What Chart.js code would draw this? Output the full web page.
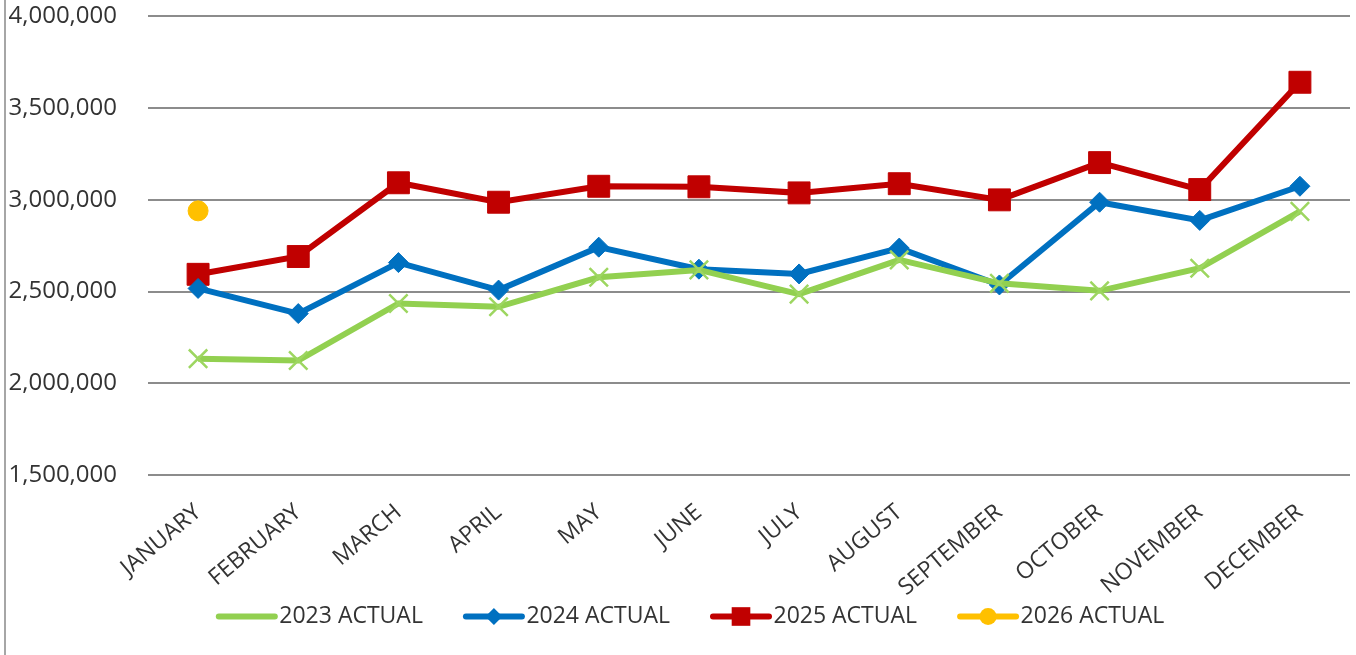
<!DOCTYPE html>
<html>
<head>
<meta charset="utf-8">
<script src="https://cdn.jsdelivr.net/npm/chart.js@4.4.1/dist/chart.umd.min.js"></script>
<style>
  html, body { margin: 0; padding: 0; background: #ffffff; }
  #wrap { position: relative; width: 1356px; height: 655px; }
  #leftLine { position: absolute; left: 4px; top: 0; width: 2px; height: 655px; background: #a6a6a6; }
</style>
</head>
<body>
<div id="wrap">
  <div id="leftLine"></div>
  <canvas id="canvas0" width="1356" height="655"></canvas>
</div>
<script>
  // 카테고리 (월)
  const aMonths = ["JANUARY", "FEBRUARY", "MARCH", "APRIL", "MAY", "JUNE", "JULY",
    "AUGUST", "SEPTEMBER", "OCTOBER", "NOVEMBER", "DECEMBER"];

  // 연도별 실적
  const aActual2023 = [2134000, 2124000, 2435000, 2417000, 2578000, 2618000, 2486000, 2673000, 2545000, 2504000, 2627000, 2937000];
  const aActual2024 = [2517000, 2380000, 2658000, 2508000, 2742000, 2622000, 2596000, 2737000, 2536000, 2987000, 2888000, 3074000];
  const aActual2025 = [2594000, 2691000, 3093000, 2987000, 3074000, 3071000, 3038000, 3088000, 3000000, 3203000, 3056000, 3641000];
  const aActual2026 = [2940000, null, null, null, null, null, null, null, null, null, null, null];

  // y축 눈금
  const aYTicks = [1500000, 2000000, 2500000, 3000000, 3500000, 4000000];

  const sFont = "'Open Sans', 'Liberation Sans', sans-serif";
  const sText = "#333333";

  let oNumberFormat = new Intl.NumberFormat("en-US");

  /**
   * 범례 샘플 (선 + 마커) 그리기
   * 박스 오른쪽 끝에 56px 선을 그리고 가운데에 마커
   */
  const legendLinePlugin = {
    id: "legendLine",
    afterDraw: function (chart) {
      const oLegend = chart.legend;
      if (!oLegend || !oLegend.legendHitBoxes) return;
      const ctx = chart.ctx;
      const iBoxWidth = oLegend.options.labels.boxWidth;
      oLegend.legendItems.forEach(function (oItem, i) {
        const oBox = oLegend.legendHitBoxes[i];
        const oDs = chart.data.datasets[oItem.datasetIndex];
        const y = oBox.top + oBox.height / 2;
        const x1 = oBox.left + iBoxWidth + 7;
        const x0 = x1 - 56;
        ctx.save();
        ctx.strokeStyle = oDs.borderColor;
        ctx.lineWidth = 6;
        ctx.lineCap = "round";
        ctx.beginPath();
        ctx.moveTo(x0, y);
        ctx.lineTo(x1, y);
        ctx.stroke();
        ctx.fillStyle = oDs.pointBackgroundColor;
        ctx.strokeStyle = oDs.pointBorderColor;
        ctx.lineWidth = oDs.pointBorderWidth;
        Chart.helpers.drawPoint(ctx, {
          pointStyle: oDs.pointStyle,
          radius: oDs.pointRadius * 0.85,
          rotation: 0
        }, (x0 + x1) / 2, y);
        ctx.restore();
      });
    }
  };

  const ctx = document.getElementById("canvas0").getContext("2d");

  new Chart(ctx, {
    type: "line",
    data: {
      labels: aMonths,
      datasets: [
        {
          label: "2023 ACTUAL",
          data: aActual2023,
          borderColor: "#92D050",
          borderWidth: 6,
          pointStyle: "crossRot",
          pointRadius: 13,
          pointBackgroundColor: "#9dd660",
          pointBorderColor: "#9dd660",
          pointBorderWidth: 2.5
        },
        {
          label: "2024 ACTUAL",
          data: aActual2024,
          borderColor: "#0070C0",
          borderWidth: 6,
          pointStyle: "rectRot",
          pointRadius: 10,
          pointBackgroundColor: "#0070C0",
          pointBorderColor: "#0070C0",
          pointBorderWidth: 1
        },
        {
          label: "2025 ACTUAL",
          data: aActual2025,
          borderColor: "#C00000",
          borderWidth: 6,
          pointStyle: "rect",
          pointRadius: 15.5,
          pointBackgroundColor: "#C00000",
          pointBorderColor: "#C00000",
          pointBorderWidth: 1
        },
        {
          label: "2026 ACTUAL",
          data: aActual2026,
          borderColor: "#FFC000",
          borderWidth: 6,
          pointStyle: "circle",
          pointRadius: 10,
          pointBackgroundColor: "#FFC000",
          pointBorderColor: "#FFC000",
          pointBorderWidth: 1
        }
      ]
    },
    options: {
      responsive: false,
      animation: false,
      layout: {
        // 마커 크기만큼 자동 여백이 생기지 않도록
        autoPadding: false,
        padding: { top: 4, right: 6, bottom: 17, left: 0 }
      },
      plugins: {
        tooltip: { enabled: false },
        legend: {
          display: true,
          position: "bottom",
          labels: {
            boxWidth: 82,
            boxHeight: 23,
            padding: 10,
            color: sText,
            font: { family: sFont, size: 23 },
            generateLabels: function (chart) {
              // 기본 박스는 숨기고 afterDraw에서 선+마커를 그림
              return Chart.defaults.plugins.legend.labels.generateLabels(chart).map(function (o) {
                o.fillStyle = "rgba(0,0,0,0)";
                o.strokeStyle = "rgba(0,0,0,0)";
                o.lineWidth = 0;
                return o;
              });
            }
          }
        }
      },
      scales: {
        x: {
          offset: true,
          // 투명한 눈금선 길이로 라벨을 아래로 내림
          grid: { display: true, drawOnChartArea: false, color: "rgba(0,0,0,0)", drawTicks: true, tickLength: 29 },
          border: { display: false },
          ticks: {
            autoSkip: false,
            minRotation: 40,
            maxRotation: 40,
            padding: 0,
            color: sText,
            font: { family: sFont, size: 23, lineHeight: 0.6 }
          },
          afterFit: function (scale) {
            scale.height = 120;
          }
        },
        y: {
          min: aYTicks[0],
          max: aYTicks[aYTicks.length - 1],
          grid: { color: "#8c8c8c", lineWidth: 2, drawTicks: true, tickLength: 29, tickColor: "rgba(0,0,0,0)" },
          border: { display: false },
          ticks: {
            padding: 2,
            color: sText,
            font: { family: sFont, size: 24 },
            callback: function (value) {
              return oNumberFormat.format(value);
            }
          },
          afterBuildTicks: function (scale) {
            scale.ticks = aYTicks.map(function (v) { return { value: v }; });
          },
          afterFit: function (scale) {
            scale.width = 148;
          }
        }
      }
    },
    plugins: [legendLinePlugin]
  });
</script>
</body>
</html>
